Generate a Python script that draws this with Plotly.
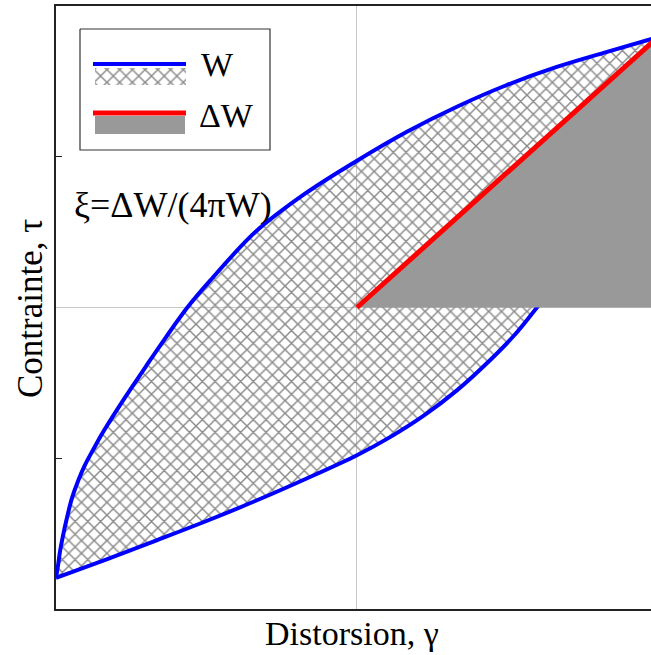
import plotly.graph_objects as go

# Hysteresis loop (strain gamma, stress tau), normalised units
strain_upper = [-1.0, -0.993, -0.987, -0.977, -0.963, -0.947, -0.927, -0.904, -0.874, -0.844,
                -0.777, -0.701, -0.635, -0.561, -0.488, -0.336, -0.169, 0.0, 0.166, 0.332,
                0.498, 0.664, 0.831, 1.0]
stress_upper = [-0.897, -0.854, -0.811, -0.758, -0.695, -0.632, -0.576, -0.523, -0.467, -0.414,
                -0.308, -0.195, -0.099, 0.003, 0.089, 0.252, 0.380, 0.487, 0.583, 0.666,
                0.738, 0.798, 0.848, 0.897]
strain_lower = [-1.0, -0.834, -0.668, -0.502, -0.336, -0.169, 0.0, 0.110, 0.223, 0.332,
                0.442, 0.522, 0.598, 0.674, 0.774, 0.874, 0.940, 1.0]
stress_lower = [-0.897, -0.836, -0.773, -0.709, -0.641, -0.568, -0.490, -0.430, -0.358, -0.275,
                -0.175, -0.093, 0.0, 0.096, 0.238, 0.421, 0.619, 0.897]
# Secant line (ΔW)
secant_x = [0.0, 1.0]
secant_y = [0.0, 0.897]

legend_labels = ["W", "ΔW"]
annotation_text = "ξ=ΔW/(4πW)"
x_title = "Distorsion, γ"
y_title = "Contrainte, τ"

SERIF = "Liberation Serif"
BLUE = "#0000ff"
RED = "#ff0000"
GREY = "#999999"
HATCH = "#8a8a8a"
PATTERN = dict(shape="x", size=9, solidity=0.3, fgcolor=HATCH,
               bgcolor="rgba(0,0,0,0)", fillmode="replace")

fig = go.Figure()

# lower branch, then upper branch filled (hatched) down to it
fig.add_trace(go.Scatter(x=strain_lower, y=stress_lower, mode="lines",
                         line=dict(color=BLUE, width=4, shape="spline", smoothing=1.0),
                         showlegend=False, hoverinfo="skip"))
fig.add_trace(go.Scatter(x=strain_upper, y=stress_upper, mode="lines",
                         line=dict(color=BLUE, width=4, shape="spline", smoothing=1.0),
                         fill="tonexty", fillcolor="rgba(0,0,0,0)", fillpattern=PATTERN,
                         showlegend=False, hoverinfo="skip"))

# grey triangle below the secant
fig.add_trace(go.Scatter(
    x=[secant_x[0], secant_x[1], secant_x[1], secant_x[0]],
    y=[secant_y[0], secant_y[0], secant_y[1], secant_y[0]],
    mode="lines", fill="toself", fillcolor=GREY, line=dict(width=0, color=GREY),
    showlegend=False, hoverinfo="skip"))

# red secant
fig.add_trace(go.Scatter(x=secant_x, y=secant_y, mode="lines",
                         line=dict(color=RED, width=5), showlegend=False, hoverinfo="skip"))

# ---- custom legend, drawn on an overlay axis measured in pixels ----
L = dict(xaxis="x2", yaxis="y2", showlegend=False, hoverinfo="skip")
fig.add_trace(go.Scatter(x=[80, 270, 270, 80, 80], y=[29, 29, 150, 150, 29], mode="lines",
                         fill="toself", fillcolor="white",
                         line=dict(color="#333333", width=1.2), **L))
fig.add_trace(go.Scatter(x=[95, 186, 186, 95, 95], y=[68, 68, 85, 85, 68], mode="lines",
                         fill="toself", fillcolor="rgba(0,0,0,0)", fillpattern=PATTERN,
                         line=dict(width=0, color="rgba(0,0,0,0)"), **L))
fig.add_trace(go.Scatter(x=[93, 186], y=[64, 64], mode="lines",
                         line=dict(color=BLUE, width=4), **L))
fig.add_trace(go.Scatter(x=[95, 185, 185, 95, 95], y=[116, 116, 134, 134, 116], mode="lines",
                         fill="toself", fillcolor=GREY, line=dict(width=0, color=GREY), **L))
fig.add_trace(go.Scatter(x=[93, 186], y=[113, 113], mode="lines",
                         line=dict(color=RED, width=5), **L))

def px_x(p):
    return (p - 56) / 595.0

def px_y(p):
    return (609 - p) / 603.0

annotations = [
    dict(x=px_x(199), y=px_y(64), xref="paper", yref="paper", text=legend_labels[0],
         showarrow=False, xanchor="left", yanchor="middle",
         font=dict(family=SERIF, size=34, color="black")),
    dict(x=px_x(197), y=px_y(116), xref="paper", yref="paper", text=legend_labels[1],
         showarrow=False, xanchor="left", yanchor="middle",
         font=dict(family=SERIF, size=34, color="black")),
    dict(x=px_x(72), y=px_y(205), xref="paper", yref="paper", text=annotation_text,
         showarrow=False, xanchor="left", yanchor="middle",
         font=dict(family=SERIF, size=36, color="black")),
    dict(x=px_x(352), y=px_y(633), xref="paper", yref="paper", text=x_title,
         showarrow=False, xanchor="center", yanchor="middle",
         font=dict(family=SERIF, size=34, color="black")),
    dict(x=px_x(30), y=px_y(309), xref="paper", yref="paper", text=y_title,
         showarrow=False, textangle=-90, xanchor="center", yanchor="middle",
         font=dict(family=SERIF, size=35, color="black")),
]

fig.update_layout(
    width=651, height=655,
    margin=dict(l=56, r=0, t=6, b=46),
    paper_bgcolor="white", plot_bgcolor="white",
    showlegend=False,
    annotations=annotations,
    xaxis=dict(range=[-1, 0.977], showgrid=False, zeroline=True, zerolinecolor="#c8c8c8",
               zerolinewidth=1, showline=True, linecolor="#222222", linewidth=2, mirror=True,
               ticks="", showticklabels=False, fixedrange=True),
    yaxis=dict(range=[-1, 1], showgrid=False, zeroline=True, zerolinecolor="#c8c8c8",
               zerolinewidth=1, showline=True, linecolor="#222222", linewidth=2, mirror=False,
               tickmode="array", tickvals=[-0.5, 0.5], ticks="inside", ticklen=6,
               tickcolor="#222222", tickwidth=1, showticklabels=False, fixedrange=True),
    xaxis2=dict(overlaying="x", range=[56, 651], visible=False, fixedrange=True),
    yaxis2=dict(overlaying="y", range=[609, 6], visible=False, fixedrange=True),
)

fig.write_html("out.html")
